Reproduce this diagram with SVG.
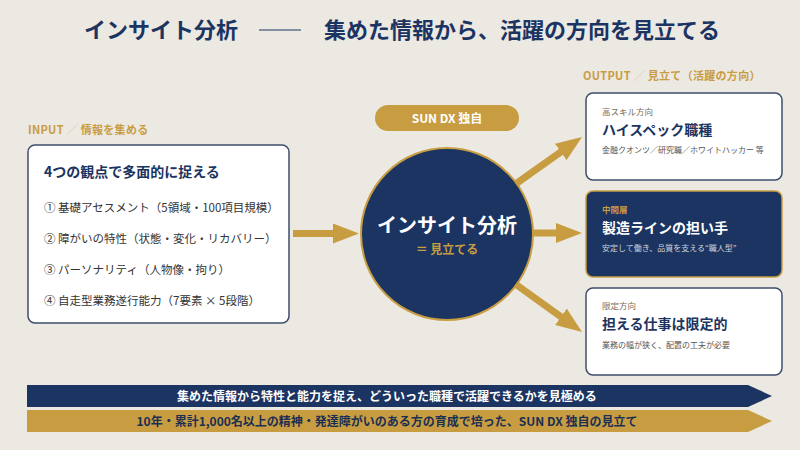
<svg xmlns="http://www.w3.org/2000/svg" width="800" height="450" viewBox="0 0 800 450">
<defs>
<style>
text{font-family:"Noto Sans CJK JP","Noto Sans",sans-serif;}
.title{font-size:22px;font-weight:700;fill:#1b3461;}
.lbl{font-size:11px;font-weight:700;fill:#c89d42;letter-spacing:0.3px;}
.wbox{fill:#ffffff;stroke:#3f4d6c;stroke-width:1.5;}
.nbox{fill:#1b3461;stroke:#c89d42;stroke-width:1.5;}
.item{font-size:11.5px;fill:#333333;}
.h{font-size:14px;font-weight:700;fill:#1b3461;}
.otitle{font-size:14px;font-weight:700;}
.otag{font-size:8.5px;}
.odesc{font-size:8px;}
.conn{stroke:#c89d42;stroke-width:7;fill:none;marker-end:url(#ah);}
.band{font-size:12px;font-weight:700;text-anchor:middle;}
</style>
<marker id="ah" markerUnits="userSpaceOnUse" markerWidth="26" markerHeight="20" refX="1" refY="10" orient="auto">
<path d="M0,0 L26,10 L0,20 z" fill="#c89d42"/>
</marker>
</defs>
<rect width="800" height="450" fill="#ece8e2"/>

<g id="title">
<text class="title" x="84" y="38">インサイト分析</text>
<line x1="259" y1="30" x2="301" y2="30" stroke="#1b3461" stroke-width="1.2"/>
<text class="title" x="324" y="38">集めた情報から、活躍の方向を見立てる</text>
</g>

<g id="input">
<text class="lbl" x="28" y="134">INPUT <tspan fill="#d9c9a3">／</tspan> 情報を集める</text>
<rect class="wbox" x="28" y="145" width="261" height="178" rx="7"/>
<text class="h" x="44" y="177">4つの観点で多面的に捉える</text>
<text class="item" x="44" y="212">① 基礎アセスメント（5領域・100項目規模）</text>
<text class="item" x="44" y="243">② 障がいの特性（状態・変化・リカバリー）</text>
<text class="item" x="44" y="274">③ パーソナリティ（人物像・拘り）</text>
<text class="item" x="44" y="305">④ 自走型業務遂行能力（7要素 × 5段階）</text>
</g>

<g id="connectors">
<line class="conn" x1="293" y1="233.5" x2="334" y2="233.5"/>
<line class="conn" x1="500" y1="195" x2="561.6" y2="151.4"/>
<line class="conn" x1="510" y1="233" x2="557" y2="233"/>
<line class="conn" x1="500" y1="273" x2="561.75" y2="317.35"/>
</g>

<g id="badge">
<rect x="375" y="105" width="144" height="26" rx="13" fill="#c89d42"/>
<text x="447" y="122.5" text-anchor="middle" font-size="12" font-weight="700" fill="#ffffff">SUN DX 独自</text>
</g>

<g id="core">
<circle cx="447" cy="234" r="86" fill="#1b3461" stroke="#c89d42" stroke-width="2"/>
<text x="447" y="233" text-anchor="middle" font-size="20" font-weight="700" fill="#ffffff">インサイト分析</text>
<text x="447" y="254" text-anchor="middle" font-size="12" font-weight="700" fill="#c89d42">＝ 見立てる</text>
</g>

<g id="output">
<text class="lbl" x="583" y="80">OUTPUT <tspan fill="#d9c9a3">／</tspan> 見立て（活躍の方向）</text>
</g>

<g id="out-high">
<rect class="wbox" x="586" y="93" width="196" height="87" rx="7"/>
<text class="otag" x="602" y="115" fill="#7d6b55">高スキル方向</text>
<text class="otitle" x="602" y="135" fill="#1b3461">ハイスペック職種</text>
<text class="odesc" x="602" y="153" fill="#555555">金融クオンツ／研究職／ホワイトハッカー 等</text>
</g>

<g id="out-mid">
<rect class="nbox" x="586" y="191" width="196" height="86" rx="7"/>
<text class="otag" x="602" y="213" fill="#c89d42" font-weight="700">中間層</text>
<text class="otitle" x="602" y="233" fill="#ffffff">製造ラインの担い手</text>
<text class="odesc" x="602" y="251" fill="#cfd5df">安定して働き、品質を支える“職人型”</text>
</g>

<g id="out-low">
<rect class="wbox" x="586" y="288" width="196" height="87" rx="7"/>
<text class="otag" x="602" y="309" fill="#7d6b55">限定方向</text>
<text class="otitle" x="602" y="329" fill="#1b3461">担える仕事は限定的</text>
<text class="odesc" x="602" y="348" fill="#555555">業務の幅が狭く、配置の工夫が必要</text>
</g>

<g id="band-1">
<polygon points="27,385 748,385 772,396 748,407 27,407" fill="#1b3461"/>
<text class="band" x="387" y="400.5" fill="#ffffff">集めた情報から特性と能力を捉え、どういった職種で活躍できるかを見極める</text>
</g>
<g id="band-2">
<polygon points="27,410 748,410 772,421 748,432 27,432" fill="#c89d42"/>
<text class="band" x="387" y="425.5" fill="#1b2f52">10年・累計1,000名以上の精神・発達障がいのある方の育成で培った、SUN DX 独自の見立て</text>
</g>
</svg>
